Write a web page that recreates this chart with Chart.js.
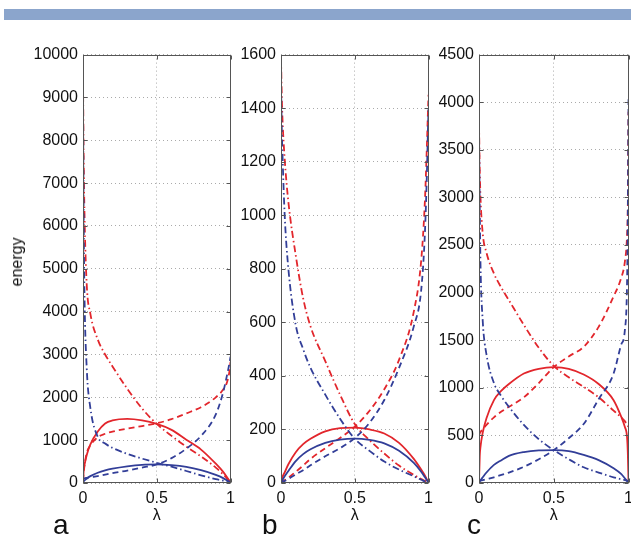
<!DOCTYPE html>
<html>
<head>
<meta charset="utf-8">
<script src="https://cdn.jsdelivr.net/npm/chart.js@4"></script>
<style>
body { margin:0; width:631px; height:539px; overflow:hidden; background:#fff; position:relative;
       font-family:"Liberation Sans", Arial, sans-serif; color:#111; }
.band { position:absolute; left:4px; top:9px; width:627px; height:11px; background:#8ba5cc; }
canvas { position:absolute; top:40px; }
.lbl { position:absolute; top:511px; font-size:28px; line-height:28px; }
#energy { position:absolute; left:17px; top:262px; font-size:16px; white-space:nowrap;
          transform:translate(-50%,-50%) rotate(-90deg); }
</style>
</head>
<body>
<div class="band"></div>
<canvas id="pa" width="241" height="489" style="left:0px"></canvas>
<canvas id="pb" width="198" height="489" style="left:241px"></canvas>
<canvas id="pc" width="200" height="489" style="left:439px"></canvas>
<div id="energy">energy</div>
<div class="lbl" style="left:53px">a</div>
<div class="lbl" style="left:262px">b</div>
<div class="lbl" style="left:467px">c</div>
<script>
// lambda grid shared by all curves
const lam = [0, 0.005, 0.01, 0.025, 0.05, 0.1, 0.15, 0.2, 0.3, 0.4, 0.5, 0.6, 0.7, 0.8, 0.9, 0.95, 0.975, 0.99, 0.995, 1];

// panel a
const aRedSolid   = [0, 300, 420, 650, 900, 1200, 1390, 1460, 1495, 1460, 1378, 1240, 1010, 780, 450, 260, 140, 60, 30, 0];
const aRedDash    = [50, 250, 400, 700, 880, 1070, 1150, 1200, 1270, 1330, 1394, 1490, 1625, 1770, 2000, 2180, 2340, 2550, 2680, 2830];
const aRedDashDot = [9400, 7500, 6300, 4650, 3950, 3350, 3000, 2720, 2200, 1740, 1378, 1100, 850, 620, 360, 200, 110, 60, 45, 40];
const aBlueSolid  = [0, 40, 60, 100, 160, 240, 295, 335, 390, 425, 433, 415, 375, 300, 190, 115, 65, 30, 15, 0];
const aBlueDash   = [100, 105, 110, 120, 135, 160, 195, 230, 290, 360, 433, 580, 800, 1100, 1600, 2120, 2500, 2750, 2850, 2950];
const aBlueDashDot = [9000, 6000, 4400, 2700, 1750, 1080, 920, 820, 680, 570, 472, 380, 280, 180, 90, 55, 40, 32, 30, 28];

// panel b
const bRedSolid   = [0, 12, 22, 40, 70, 115, 145, 165, 193, 205, 207, 200, 185, 150, 90, 50, 28, 12, 6, 0];
const bRedDash    = [0, 2, 4, 10, 20, 42, 65, 90, 130, 168, 210, 270, 350, 460, 640, 830, 1050, 1280, 1370, 1450];
const bRedDashDot = [1590, 1450, 1360, 1210, 1050, 850, 690, 585, 455, 330, 220, 160, 110, 65, 30, 15, 8, 3, 1, 0];
const bBlueSolid  = [0, 6, 11, 25, 45, 82, 108, 126, 150, 162, 166, 161, 148, 120, 75, 42, 22, 9, 5, 0];
const bBlueDash   = [0, 1, 3, 8, 15, 32, 48, 66, 100, 130, 168, 225, 310, 430, 585, 720, 930, 1180, 1300, 1400];
const bBlueDashDot = [1500, 1330, 1230, 1000, 800, 590, 500, 430, 330, 240, 165, 120, 80, 50, 25, 12, 6, 2, 1, 0];

// panel c
const cRedSolid   = [0, 280, 380, 530, 680, 870, 970, 1040, 1150, 1200, 1217, 1200, 1140, 1040, 870, 700, 590, 480, 320, 0];
const cRedDash    = [500, 520, 535, 565, 610, 690, 750, 800, 900, 1050, 1217, 1330, 1430, 1640, 1960, 2150, 2320, 2600, 2900, 3900];
const cRedDashDot = [3780, 3300, 3000, 2620, 2420, 2200, 2050, 1920, 1660, 1420, 1230, 1110, 1010, 900, 760, 690, 650, 610, 600, 590];
const cBlueSolid  = [0, 15, 28, 60, 110, 190, 240, 285, 325, 342, 345, 335, 295, 240, 155, 95, 50, 20, 10, 0];
const cBlueDash   = [20, 22, 24, 30, 40, 60, 85, 110, 170, 250, 345, 470, 620, 880, 1150, 1450, 1600, 2100, 2800, 4050];
const cBlueDashDot = [3700, 2900, 2300, 1700, 1350, 1050, 910, 800, 610, 460, 345, 250, 165, 110, 60, 40, 30, 24, 22, 20];

const red = '#e2262c';
const blue = '#323e98';
const solid = [];
const dashed = [6, 4];
const dashDot = [7, 3, 1.5, 3];

Chart.defaults.font.family = '"Liberation Sans", Arial, sans-serif';
Chart.defaults.color = '#111';

function serie(vals, color, dash) {
    return {
        data: vals.map((v, i) => ({ x: lam[i], y: v })),
        borderColor: color,
        borderDash: dash,
        borderWidth: 1.8,
        pointRadius: 0,
        fill: false,
        cubicInterpolationMode: 'monotone'
    };
}

// box around the plot with small inward ticks, matlab style
const frame = {
    id: 'frame',
    afterDraw(c) {
        const a = c.chartArea, ctx = c.ctx;
        const l = Math.round(a.left) + 0.5, r = Math.round(a.right) - 0.5;
        const t = Math.round(a.top) + 0.5, b = Math.round(a.bottom) - 0.5;
        ctx.save();
        ctx.strokeStyle = '#555';
        ctx.lineWidth = 1;
        ctx.strokeRect(l, t, r - l, b - t);
        ctx.beginPath();
        c.scales.y.ticks.forEach(tk => {
            const y = Math.round(c.scales.y.getPixelForValue(tk.value)) + 0.5;
            ctx.moveTo(l, y); ctx.lineTo(l + 4, y);
            ctx.moveTo(r, y); ctx.lineTo(r - 4, y);
        });
        c.scales.x.ticks.forEach(tk => {
            const x = Math.round(c.scales.x.getPixelForValue(tk.value)) + 0.5;
            ctx.moveTo(x, b); ctx.lineTo(x, b - 4);
            ctx.moveTo(x, t); ctx.lineTo(x, t + 4);
        });
        ctx.stroke();
        ctx.restore();
    }
};

function panel(id, sets, yMax, yStep, yWidth, padRight) {
    new Chart(document.getElementById(id), {
        type: 'line',
        data: { datasets: sets },
        options: {
            responsive: false,
            animation: false,
            devicePixelRatio: 1,
            layout: { padding: { top: 13, right: padRight, left: 0, bottom: 0 } },
            plugins: { legend: { display: false }, tooltip: { enabled: false } },
            scales: {
                x: {
                    type: 'linear', min: 0, max: 1,
                    ticks: { stepSize: 0.5, font: { size: 16 }, padding: 6, maxRotation: 0,
                             callback: v => String(v) },
                    grid: { color: '#aaa', drawTicks: false },
                    border: { display: false, dash: [1, 3] },
                    title: { display: true, text: 'λ', font: { size: 16 }, padding: { top: 0, bottom: 4 } },
                    afterFit: s => { s.height = 46; }
                },
                y: {
                    min: 0, max: yMax,
                    ticks: { stepSize: yStep, font: { size: 16 }, padding: 5,
                             callback: v => String(v) },
                    grid: { color: '#aaa', drawTicks: false },
                    border: { display: false, dash: [1, 3] },
                    afterFit: s => { s.width = yWidth; }
                }
            }
        },
        plugins: [frame]
    });
}

panel('pa', [
    serie(aBlueDashDot, blue, dashDot), serie(aBlueDash, blue, dashed), serie(aBlueSolid, blue, solid),
    serie(aRedDashDot, red, dashDot), serie(aRedDash, red, dashed), serie(aRedSolid, red, solid)
], 10000, 1000, 83, 8);

panel('pb', [
    serie(bBlueDashDot, blue, dashDot), serie(bBlueDash, blue, dashed), serie(bBlueSolid, blue, solid),
    serie(bRedDashDot, red, dashDot), serie(bRedDash, red, dashed), serie(bRedSolid, red, solid)
], 1600, 200, 40, 8);

panel('pc', [
    serie(cBlueDashDot, blue, dashDot), serie(cBlueDash, blue, dashed), serie(cBlueSolid, blue, solid),
    serie(cRedDashDot, red, dashDot), serie(cRedDash, red, dashed), serie(cRedSolid, red, solid)
], 4500, 500, 40, 10);
</script>
</body>
</html>
